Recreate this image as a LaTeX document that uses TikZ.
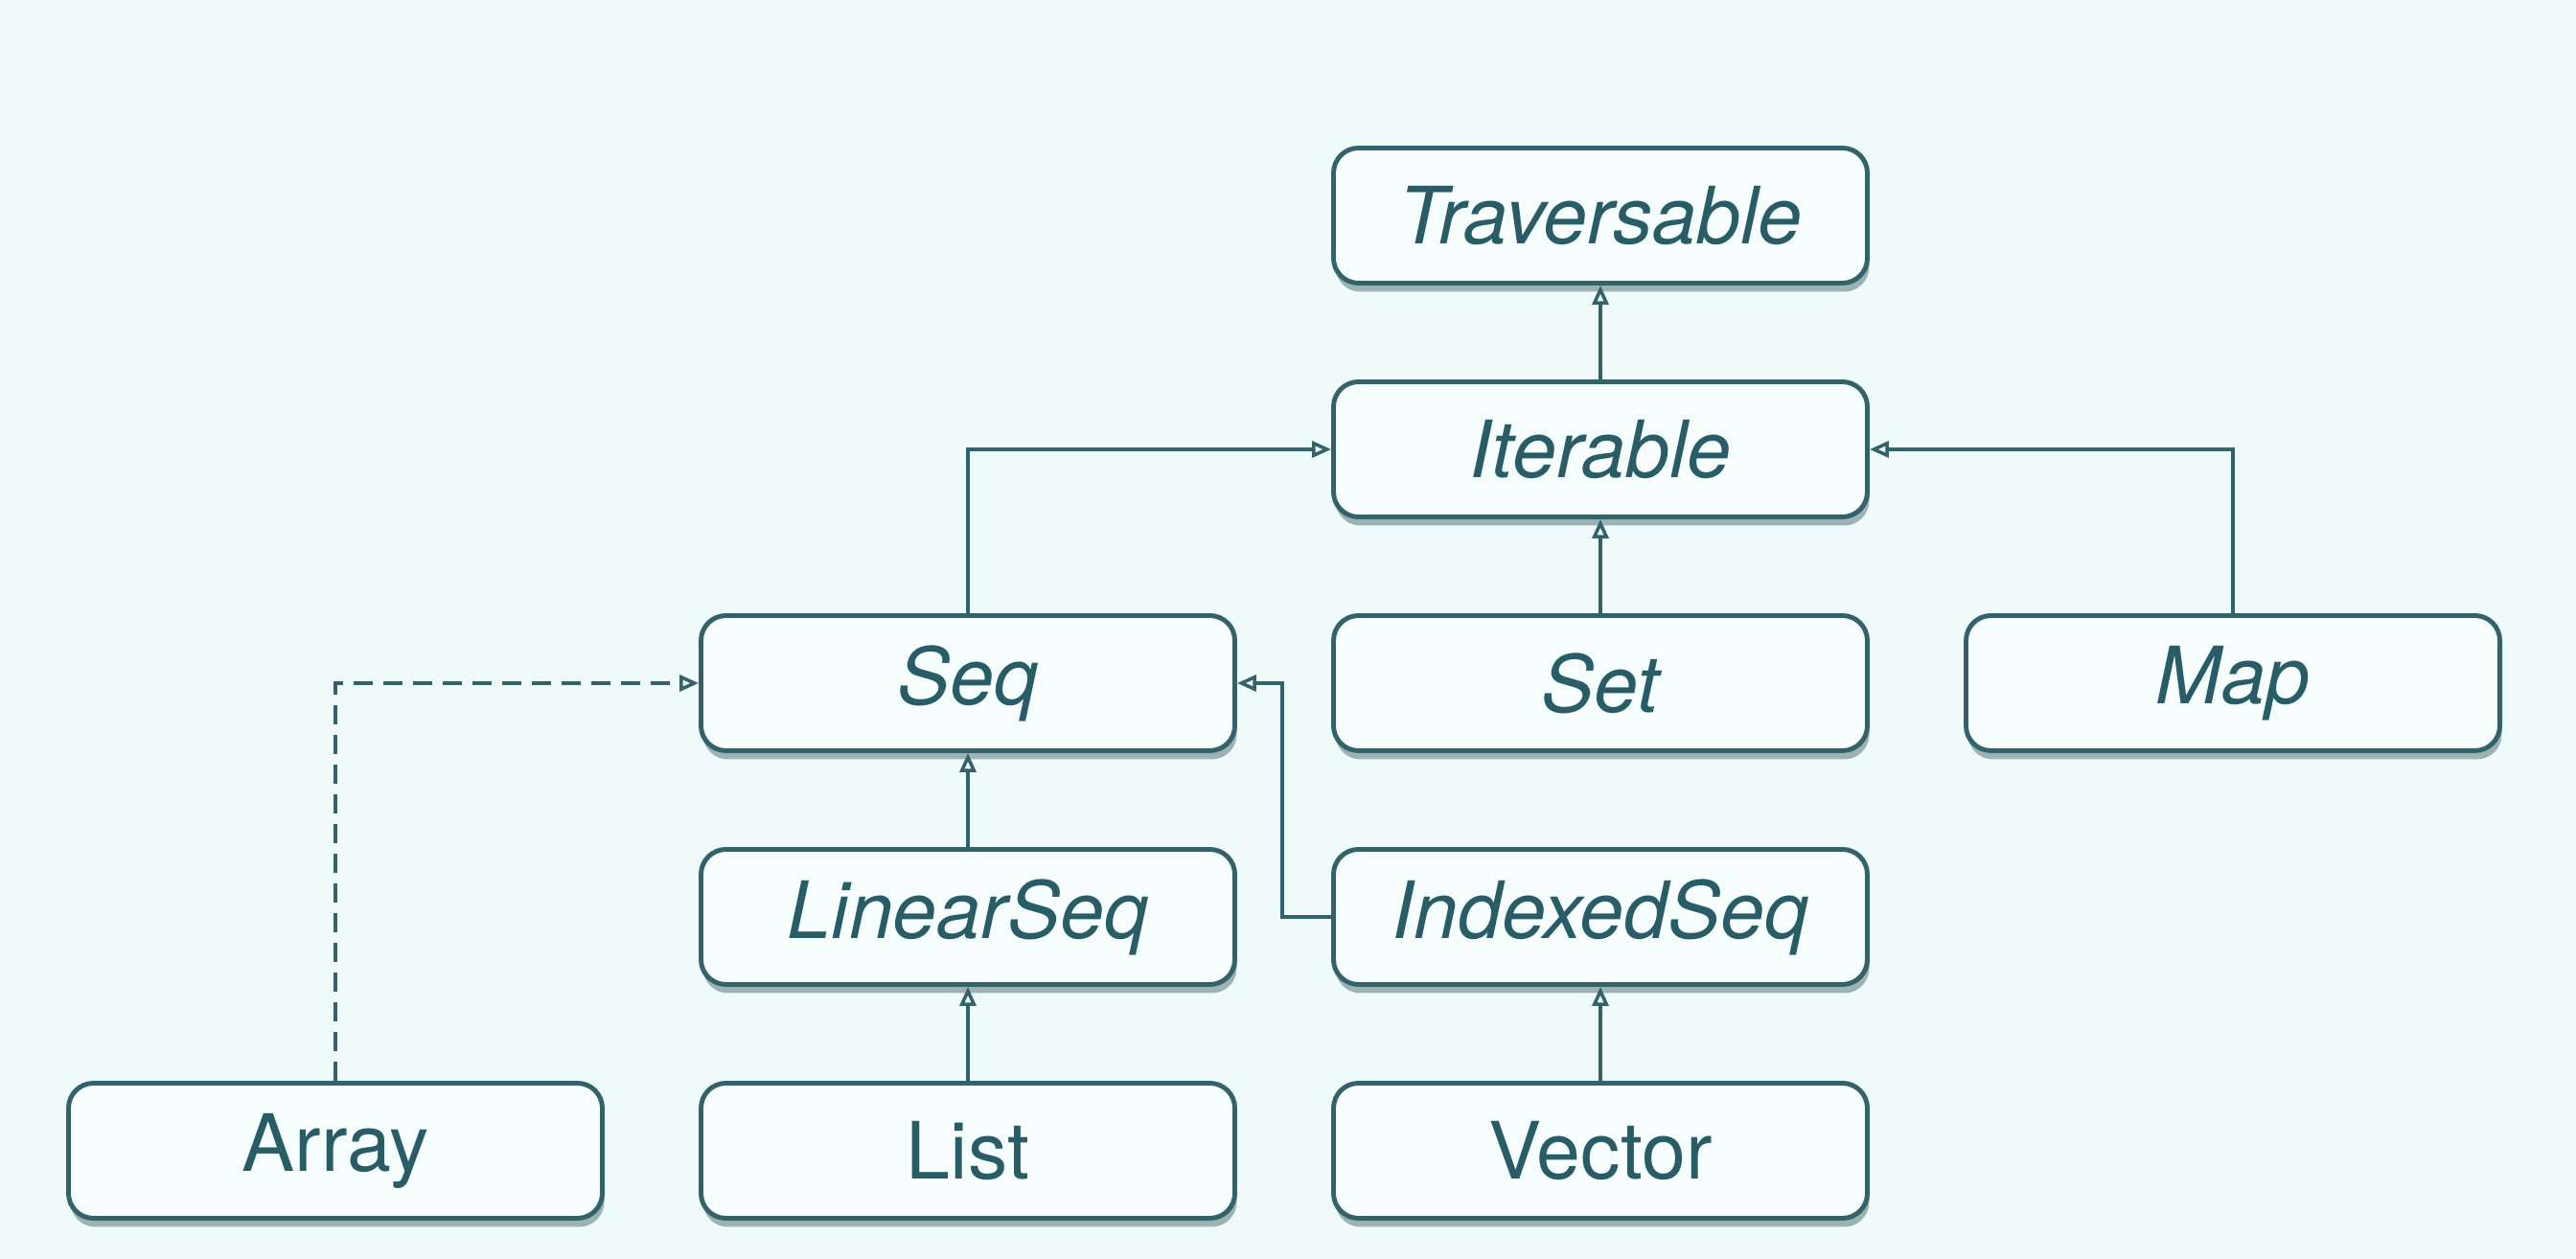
\documentclass[tikz,border=0pt]{standalone}
\usepackage{fontspec}
\setmainfont{TeX Gyre Heros}
\usepackage{tikz}
\usetikzlibrary{arrows.meta,shadows}
\definecolor{bgTeal}{RGB}{238,251,250}
\definecolor{boxFill}{RGB}{247,255,254}
\definecolor{lineTeal}{RGB}{52,98,106}
\definecolor{textTeal}{RGB}{40,92,102}
\tikzstyle{edge}=[draw=lineTeal, line width=1pt, -{Triangle[open, length=0.2cm, width=0.17cm]}]
\tikzstyle{edgeDashed}=[edge, dash pattern=on 0.2cm off 0.11cm]
\tikzstyle{typeBox}=[rectangle, rounded corners=0.26cm, draw=lineTeal, fill=boxFill, line width=1.4pt, minimum width=5.57cm, minimum height=1.41cm, inner sep=0pt, text=textTeal, font=\fontsize{23.5}{28}\selectfont, drop shadow={shadow xshift=0.02cm, shadow yshift=-0.09cm, opacity=0.4, fill=lineTeal!70!black}]
\tikzstyle{traitBox}=[typeBox, font=\fontsize{23.5}{28}\selectfont\itshape]

\begin{document}
\begin{tikzpicture}
      \fill[bgTeal] (0, 0) rectangle (26.88, 13.14);
      \useasboundingbox (0, 0) rectangle (26.88, 13.14);
      \node(traversable) [traitBox] at (16.70, 10.89){Traversable};
      \node(iterable) [traitBox] at (16.70, 8.45){Iterable};
      \node(seq) [traitBox] at (10.10, 6.01){Seq};
      \node(set) [traitBox] at (16.70, 6.01){Set};
      \node(map) [traitBox] at (23.30, 6.01){Map};
      \node(linearseq) [traitBox] at (10.10, 3.57){LinearSeq};
      \node(indexedseq) [traitBox] at (16.70, 3.57){IndexedSeq};
      \node(array) [typeBox] at (3.50, 1.13){Array};
      \node(list) [typeBox] at (10.10, 1.13){List};
      \node(vector) [typeBox] at (16.70, 1.13){Vector};
      \draw[edge] (iterable) to (traversable);
      \draw[edge] (seq.north) |- (iterable.west);
      \draw[edge] (set) to (iterable);
      \draw[edge] (map.north) |- (iterable.east);
      \draw[edge] (linearseq) to (seq);
      \draw[edge] (indexedseq.west) -- ++(-0.51, 0) |- (seq.east);
      \draw[edge] (list) to (linearseq);
      \draw[edge] (vector) to (indexedseq);
      \draw[edgeDashed] (array.north) |- (seq.west);
    \end{tikzpicture}
\end{document}
